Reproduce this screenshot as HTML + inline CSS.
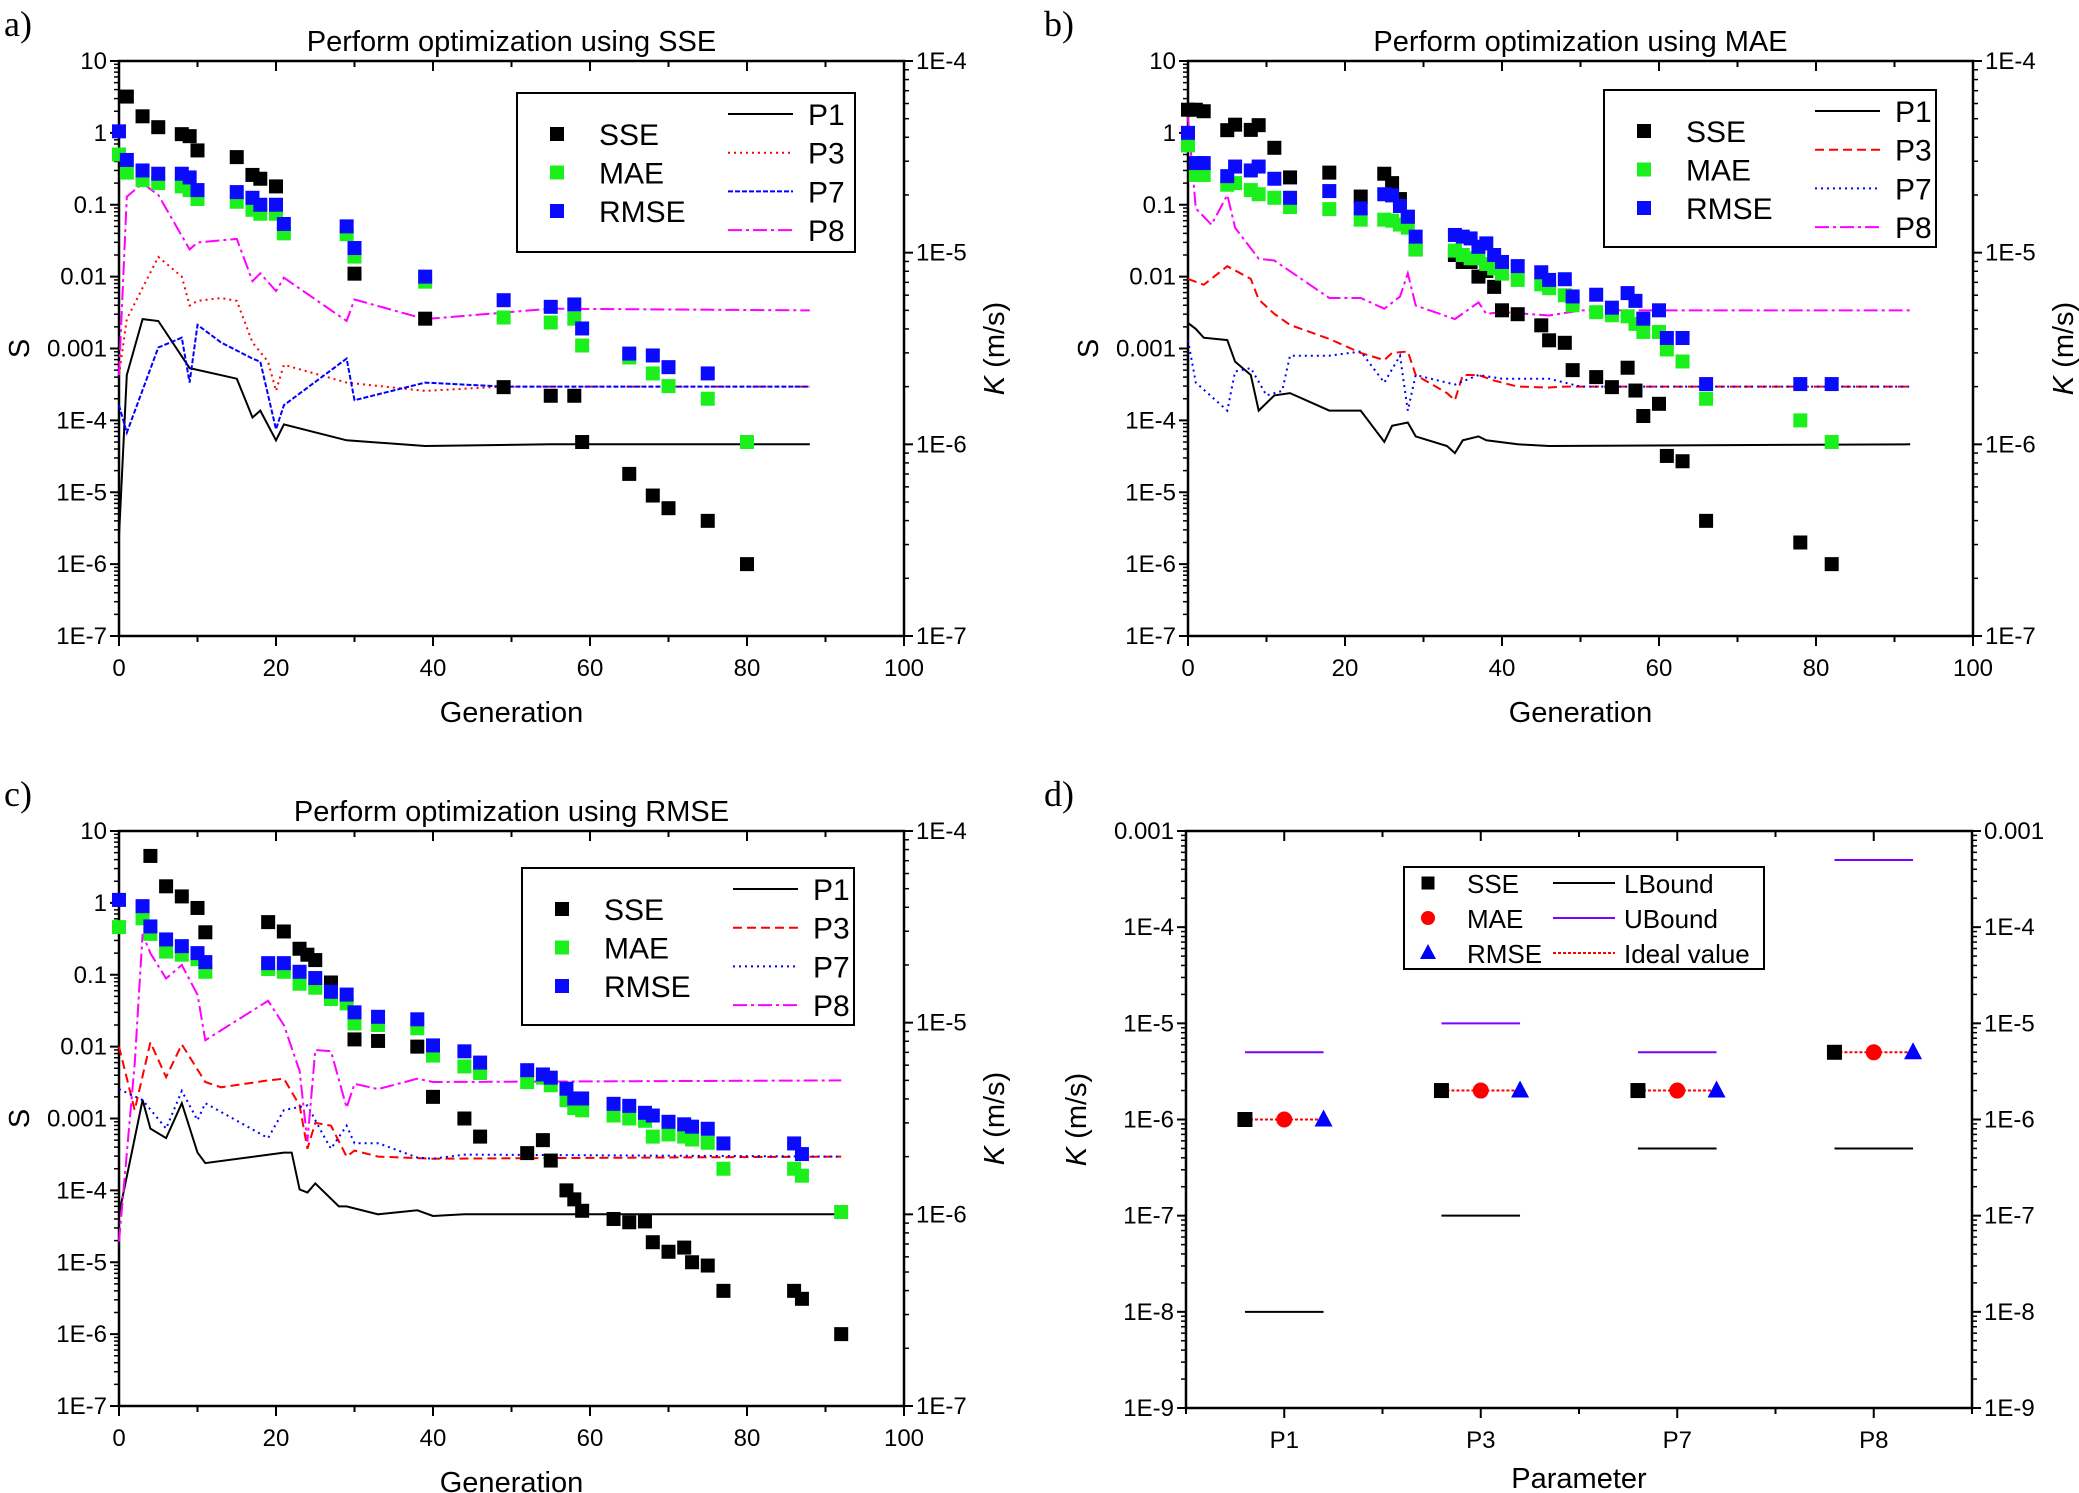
<!DOCTYPE html>
<html><head><meta charset="utf-8"><style>
html,body{margin:0;padding:0;background:#fff;}
svg{display:block;font-family:"Liberation Sans",Arial,sans-serif;}
</style></head><body>
<svg id="fig" width="2079" height="1493" viewBox="0 0 2079 1493" xmlns="http://www.w3.org/2000/svg"></svg>
<script>
// ---------- data: panel a (optimization using SSE) ----------
const a_sse_gen=[1,3,5,8,9,10,15,17,18,20,30,39,49,55,58,59,65,68,70,75,80];
const a_sse_val=[3.2,1.7,1.2,0.96,0.9,0.57,0.46,0.26,0.23,0.18,0.011,0.0026,2.9e-4,2.2e-4,2.2e-4,5e-5,1.8e-5,9e-6,6e-6,4e-6,1e-6];
const a_mae_gen=[0,1,3,5,8,9,10,15,17,18,20,21,29,30,39,49,55,58,59,65,68,70,75,80];
const a_mae_val=[0.5,0.28,0.22,0.2,0.18,0.16,0.12,0.11,0.085,0.075,0.075,0.04,0.039,0.019,0.0085,0.0027,0.0023,0.0026,0.0011,7.5e-4,4.5e-4,3e-4,2e-4,5e-5];
const a_rmse_gen=[0,1,3,5,8,9,10,15,17,18,20,21,29,30,39,49,55,58,59,65,68,70,75];
const a_rmse_val=[1.05,0.42,0.3,0.27,0.27,0.24,0.16,0.15,0.125,0.1,0.1,0.054,0.05,0.025,0.01,0.0047,0.0038,0.0041,0.0019,8.5e-4,8e-4,5.5e-4,4.5e-4];
const a_p1_gen=[0,1,3,5,9,15,17,18,20,21,29,39,55,88];
const a_p1_val=[3.3e-7,2.3e-6,4.5e-6,4.4e-6,2.5e-6,2.2e-6,1.38e-6,1.5e-6,1.05e-6,1.27e-6,1.05e-6,0.98e-6,1.0e-6,1.0e-6];
const a_p3_gen=[0,1,5,8,9,10,13,15,17,19,20,21,29,39,49,88];
const a_p3_val=[2.3e-6,4.5e-6,9.5e-6,7.5e-6,5.3e-6,5.6e-6,5.8e-6,5.6e-6,3.4e-6,2.7e-6,1.9e-6,2.6e-6,2.1e-6,1.9e-6,2.0e-6,2.0e-6];
const a_p7_gen=[0,1,5,8,9,10,13,17,18,20,21,29,30,39,49,88];
const a_p7_val=[1.6e-6,1.15e-6,3.2e-6,3.6e-6,2.1e-6,4.2e-6,3.4e-6,2.8e-6,2.7e-6,1.2e-6,1.6e-6,2.8e-6,1.7e-6,2.1e-6,2e-6,2e-6];
const a_p8_gen=[0,1,3,5,9,10,15,17,18,20,21,29,30,39,55,88];
const a_p8_val=[2.3e-6,1.96e-5,2.3e-5,2.0e-5,1.04e-5,1.13e-5,1.18e-5,7.1e-6,7.8e-6,6.3e-6,7.4e-6,4.4e-6,5.7e-6,4.5e-6,5.1e-6,5e-6];
// ---------- data: panel b (optimization using MAE) ----------
const b_gen=[0,1,2,5,6,8,9,11,13,18,22,25,26,27,28,29,34,35,36,37,38,39,40,42,45,46,48,49,52,54,56,57,58,60,61,63,66,78,82];
const b_sse_val=[2.1,2.1,2.0,1.09,1.3,1.1,1.28,0.62,0.24,0.28,0.13,0.27,0.2,0.12,0.068,0.024,0.02,0.016,0.016,0.01,0.012,0.0072,0.0034,0.003,0.0021,0.0013,0.0012,5e-4,4e-4,2.9e-4,5.4e-4,2.6e-4,1.15e-4,1.7e-4,3.2e-5,2.7e-5,4e-6,2e-6,1e-6];
const b_mae_val=[0.67,0.26,0.26,0.19,0.2,0.16,0.14,0.125,0.093,0.087,0.062,0.062,0.06,0.053,0.048,0.024,0.023,0.02,0.018,0.018,0.015,0.013,0.011,0.009,0.0078,0.0069,0.0055,0.004,0.0032,0.0029,0.0028,0.0022,0.0017,0.0017,9.7e-4,6.6e-4,2.0e-4,1e-4,5e-5];
const b_rmse_val=[1.0,0.38,0.38,0.25,0.34,0.3,0.34,0.23,0.125,0.155,0.089,0.14,0.135,0.096,0.068,0.036,0.038,0.036,0.034,0.026,0.029,0.02,0.016,0.014,0.0115,0.009,0.0092,0.0053,0.0056,0.0037,0.0059,0.0046,0.0026,0.0034,0.0014,0.0014,3.2e-4,3.2e-4,3.2e-4];
const b_p1_gen=[0,1,2,5,6,8,9,11,13,18,22,25,26,28,29,33,34,35,37,38,42,46,92];
const b_p1_val=[4.3e-6,4.0e-6,3.6e-6,3.5e-6,2.7e-6,2.3e-6,1.5e-6,1.8e-6,1.85e-6,1.5e-6,1.5e-6,1.03e-6,1.25e-6,1.3e-6,1.1e-6,0.98e-6,0.9e-6,1.05e-6,1.1e-6,1.05e-6,1.0e-6,0.98e-6,1.0e-6];
const b_p3_gen=[0,2,5,8,9,11,13,18,22,25,26,28,29,33,34,35,37,39,42,46,48,92];
const b_p3_val=[7.3e-6,6.8e-6,8.5e-6,7.3e-6,5.7e-6,4.8e-6,4.2e-6,3.55e-6,3.0e-6,2.75e-6,3.0e-6,3.05e-6,2.3e-6,1.85e-6,1.7e-6,2.3e-6,2.3e-6,2.15e-6,2.0e-6,1.98e-6,2e-6,2e-6];
const b_p7_gen=[0,1,5,6,8,10,12,13,18,22,25,27,28,29,34,37,40,46,50,92];
const b_p7_val=[3.5e-6,2.1e-6,1.5e-6,2.4e-6,2.5e-6,1.8e-6,1.9e-6,2.9e-6,2.9e-6,3.05e-6,2.1e-6,2.9e-6,1.5e-6,2.3e-6,2.05e-6,2.3e-6,2.2e-6,2.2e-6,2e-6,2e-6];
const b_p8_gen=[0,1,3,5,6,9,11,13,18,22,25,27,28,29,34,37,38,40,46,50,92];
const b_p8_val=[5.1e-5,1.7e-5,1.4e-5,2.0e-5,1.35e-5,9.3e-6,9.1e-6,8.0e-6,5.8e-6,5.8e-6,5.1e-6,5.9e-6,7.8e-6,5.3e-6,4.5e-6,5.5e-6,4.8e-6,4.9e-6,4.7e-6,5e-6,5e-6];
// ---------- data: panel c (optimization using RMSE) ----------
const c_sse_gen=[4,6,8,10,11,19,21,23,24,25,27,30,33,38,40,44,46,52,54,55,57,58,59,63,65,67,68,70,72,73,75,77,86,87,92];
const c_sse_val=[4.5,1.7,1.23,0.85,0.39,0.54,0.4,0.23,0.19,0.16,0.078,0.0126,0.012,0.01,0.002,0.001,5.6e-4,3.3e-4,5e-4,2.6e-4,1e-4,7.5e-5,5.2e-5,4e-5,3.6e-5,3.7e-5,1.9e-5,1.4e-5,1.6e-5,1e-5,9e-6,4e-6,4e-6,3.1e-6,1e-6];
const c_gen=[0,3,4,6,8,10,11,19,21,23,25,27,29,30,33,38,40,44,46,52,54,55,57,58,59,63,65,67,68,70,72,73,75,77,86,87];
const c_mae_val=[0.46,0.61,0.37,0.21,0.19,0.165,0.11,0.12,0.11,0.075,0.066,0.046,0.04,0.021,0.02,0.018,0.0075,0.0053,0.0043,0.0032,0.0037,0.0029,0.0018,0.0014,0.0013,0.0011,0.001,9.3e-4,5.6e-4,6e-4,5.6e-4,5.1e-4,4.6e-4,2e-4,2e-4,1.6e-4];
const c_rmse_val=[1.1,0.9,0.47,0.31,0.25,0.2,0.15,0.145,0.145,0.11,0.09,0.058,0.053,0.03,0.026,0.024,0.0104,0.0086,0.006,0.0047,0.0041,0.0037,0.0026,0.0019,0.0019,0.0016,0.0015,0.0012,0.0011,9e-4,8.3e-4,7.7e-4,7.2e-4,4.5e-4,4.5e-4,3.2e-4];
const c_mae_extra_gen=[92];
const c_mae_extra_val=[5e-5];
const c_p1_gen=[0,3,4,6,8,10,11,21,22,23,24,25,28,29,33,38,40,44,92];
const c_p1_val=[1e-6,3.95e-6,2.8e-6,2.5e-6,3.8e-6,2.1e-6,1.85e-6,2.1e-6,2.1e-6,1.35e-6,1.3e-6,1.45e-6,1.1e-6,1.1e-6,1e-6,1.05e-6,0.98e-6,1e-6,1e-6];
const c_p3_gen=[0,2,4,6,8,11,13,19,21,23,24,25,27,29,30,33,40,92];
const c_p3_val=[7.5e-6,3.5e-6,7.9e-6,5.2e-6,7.7e-6,4.9e-6,4.6e-6,5e-6,5.1e-6,3.7e-6,2.2e-6,3.0e-6,2.9e-6,2.0e-6,2.15e-6,2e-6,1.95e-6,2e-6];
const c_p7_gen=[0,3,6,8,10,11,19,21,24,26,27,29,30,33,38,40,44,92];
const c_p7_val=[4.5e-6,3.95e-6,2.8e-6,4.4e-6,3.1e-6,3.8e-6,2.5e-6,3.5e-6,3.7e-6,2.6e-6,2.2e-6,2.9e-6,2.35e-6,2.35e-6,1.98e-6,1.95e-6,2.05e-6,2e-6];
const c_p8_gen=[0,2,3,4,6,8,10,11,19,21,23,24,25,27,29,30,33,38,40,92];
const c_p8_val=[7.2e-7,6.1e-6,2.9e-5,2.3e-5,1.7e-5,2.0e-5,1.4e-5,8.1e-6,1.3e-5,9.7e-6,5.6e-6,2.4e-6,7.2e-6,7.1e-6,3.6e-6,4.8e-6,4.5e-6,5.1e-6,4.9e-6,5e-6];
// ---------- data: panel d ----------
const d_params=["P1","P3","P7","P8"];
const d_lbound=[1e-8,1e-7,5e-7,5e-7];
const d_ubound=[5e-6,1e-5,5e-6,5e-4];
const d_ideal=[1e-6,2e-6,2e-6,5e-6];
const d_sse=[1e-6,2e-6,2e-6,5e-6];
const d_mae=[1e-6,2e-6,2e-6,5e-6];
const d_rmse=[1e-6,2e-6,2e-6,5e-6];
// ---------- tick labels ----------
const sTicks=["10","1","0.1","0.01","0.001","1E-4","1E-5","1E-6","1E-7"];
const kTicks=["1E-4","1E-5","1E-6","1E-7"];
const genTicks=[0,20,40,60,80,100];
const dTicks=["0.001","1E-4","1E-5","1E-6","1E-7","1E-8","1E-9"];

const NS='http://www.w3.org/2000/svg';
const svg=document.getElementById('fig');
function mk(tag,attrs,name,parent){
  const el=document.createElementNS(NS,tag);
  for(const k in attrs) el.setAttribute(k,attrs[k]);
  
  
  (parent||svg).appendChild(el);
  return el;
}
function txt(x,y,s,size,name,anchor,extra,parent){
  const a=Object.assign({x:x,y:y,'font-size':size,'text-anchor':anchor||'start',fill:'#000'},extra||{});
  const t=mk('text',a,name,parent);
  t.textContent=s;
  return t;
}
function kLabel(x,y,name){
  const t=mk('text',{x:0,y:0,'font-size':29,'text-anchor':'middle',transform:`translate(${x},${y}) rotate(-90)`},name);
  const i=document.createElementNS(NS,'tspan');i.setAttribute('font-style','italic');i.textContent='K';t.appendChild(i);
  const r=document.createElementNS(NS,'tspan');r.textContent=' (m/s)';t.appendChild(r);
}
function square(g,x,y,s,fill,name){mk('rect',{x:x-s/2,y:y-s/2,width:s,height:s,fill:fill},name,g);}

function genPanel(c){
  const g=mk('g',{},c.id);
  const L=c.L,T=c.T,W=c.W,H=c.H;
  const X=v=>L+v/100*W;
  const YS=v=>T+(1-Math.log10(v))/8*H;
  const YK=v=>T+(-4-Math.log10(v))/3*H;
  // axes frame
  mk('rect',{x:L,y:T,width:W,height:H,fill:'none',stroke:'#000','stroke-width':2.5},'plot-frame',g);
  // x ticks
  for(let i=0;i<=10;i++){
    const x=X(i*10),len=i%2==0?10:6;
    mk('line',{x1:x,y1:T+H,x2:x,y2:T+H+len,stroke:'#000','stroke-width':2},'x-tick',g);
    mk('line',{x1:x,y1:T,x2:x,y2:T+len,stroke:'#000','stroke-width':2},'x-tick-top',g);
  }
  genTicks.forEach(v=>txt(X(v),T+H+40,String(v),24,'x-tick-label','middle',null,g));
  // left ticks
  sTicks.forEach((s,i)=>{
    const y=T+i*H/8;
    mk('line',{x1:L-9,y1:y,x2:L,y2:y,stroke:'#000','stroke-width':2},'y-tick',g);
    txt(L-12,y+8,s,24,'y-tick-label','end',null,g);
    if(i<8) for(let m=2;m<10;m++){
      const ym=T+(i+1-Math.log10(m))*H/8;
      mk('line',{x1:L-5,y1:ym,x2:L,y2:ym,stroke:'#000','stroke-width':1.5},'y-minor-tick',g);
    }
  });
  kTicks.forEach((s,i)=>{
    const y=T+i*H/3;
    mk('line',{x1:L+W,y1:y,x2:L+W+9,y2:y,stroke:'#000','stroke-width':2},'y2-tick',g);
    txt(L+W+12,y+8,s,24,'y2-tick-label','start',null,g);
    if(i<3) for(let m=2;m<10;m++){
      const ym=T+(i+1-Math.log10(m))*H/3;
      mk('line',{x1:L+W,y1:ym,x2:L+W+5,y2:ym,stroke:'#000','stroke-width':1.5},'y2-minor-tick',g);
    }
  });
  txt(L+W/2,T-10,c.title,29,'chart-title','middle',null,g);
  txt(L+W/2,T+H+86,'Generation',29,'x-axis-title','middle',null,g);
  const sl=mk('text',{x:0,y:0,'font-size':29,'text-anchor':'middle',transform:`translate(${L-90},${T+H/2}) rotate(-90)`},'y-axis-title',g);
  sl.textContent='S';
  kLabel(L+W+100,T+H/2,'y2-axis-title');
  txt(c.letterX,c.letterY,c.letter,36,'panel-label','start',{'font-family':'"Liberation Serif",serif'},g);
  // lines
  const lines=[[c.p1g,c.p1v,'#000','none','p1-line'],[c.p3g,c.p3v,'#ff0000',c.d3,'p3-line'],[c.p7g,c.p7v,'#0000ff',c.d7,'p7-line'],[c.p8g,c.p8v,'#ff00ff','14,4,3,4','p8-line']];
  lines.forEach(l=>{
    const pts=l[0].map((gg,i)=>X(gg).toFixed(1)+','+YK(l[1][i]).toFixed(1)).join(' ');
    mk('polyline',{points:pts,fill:'none',stroke:l[2],'stroke-width':2,'stroke-dasharray':l[3]},l[4],g);
  });
  // scatter
  c.sseG.forEach((gg,i)=>square(g,X(gg),YS(c.sseV[i]),14,'#000','sse-point'));
  c.maeG.forEach((gg,i)=>square(g,X(gg),YS(c.maeV[i]),14,'#1cf01c','mae-point'));
  if(c.maeG2) c.maeG2.forEach((gg,i)=>square(g,X(gg),YS(c.maeV2[i]),14,'#1cf01c','mae-point'));
  c.rmseG.forEach((gg,i)=>square(g,X(gg),YS(c.rmseV[i]),14,'#0a0aff','rmse-point'));
  // legend
  const lg=mk('g',{},'legend',g);
  const b=c.lb;
  mk('rect',{x:b[0],y:b[1],width:b[2],height:b[3],fill:'#fff',stroke:'#000','stroke-width':2},'legend-box',lg);
  const mx=b[0]+40, tx=b[0]+82;
  const rows=[['SSE','#000'],['MAE','#1cf01c'],['RMSE','#0a0aff']];
  rows.forEach((r,i)=>{
    const y=b[1]+41+i*38.5;
    square(lg,mx,y,14,r[1],'legend-marker-'+r[0].toLowerCase());
    txt(tx,y+11,r[0],30,'legend-label-'+r[0].toLowerCase(),'start',null,lg);
  });
  const lx1=b[0]+211, lx2=b[0]+276;
  lines.forEach((l,i)=>{
    const y=b[1]+21+i*38.7;
    mk('line',{x1:lx1,y1:y,x2:lx2,y2:y,stroke:l[2],'stroke-width':2,'stroke-dasharray':l[3]},'legend-line-'+l[4],lg);
    txt(lx2+15,y+11,['P1','P3','P7','P8'][i],30,'legend-label-'+l[4],'start',null,lg);
  });
}

genPanel({id:'panel-a',L:119,T:61,W:785,H:575,title:'Perform optimization using SSE',letter:'a)',letterX:4,letterY:36,
  sseG:a_sse_gen,sseV:a_sse_val,maeG:a_mae_gen,maeV:a_mae_val,rmseG:a_rmse_gen,rmseV:a_rmse_val,
  p1g:a_p1_gen,p1v:a_p1_val,p3g:a_p3_gen,p3v:a_p3_val,p7g:a_p7_gen,p7v:a_p7_val,p8g:a_p8_gen,p8v:a_p8_val,
  d3:'2,4',d7:'5,2',lb:[517,93,338,159]});
genPanel({id:'panel-b',L:1188,T:61,W:785,H:575,title:'Perform optimization using MAE',letter:'b)',letterX:1044,letterY:36,
  sseG:b_gen,sseV:b_sse_val,maeG:b_gen,maeV:b_mae_val,rmseG:b_gen,rmseV:b_rmse_val,
  p1g:b_p1_gen,p1v:b_p1_val,p3g:b_p3_gen,p3v:b_p3_val,p7g:b_p7_gen,p7v:b_p7_val,p8g:b_p8_gen,p8v:b_p8_val,
  d3:'9,5',d7:'2,4',lb:[1604,90,332,157]});
genPanel({id:'panel-c',L:119,T:831,W:785,H:575,title:'Perform optimization using RMSE',letter:'c)',letterX:4,letterY:806,
  sseG:c_sse_gen,sseV:c_sse_val,maeG:c_gen,maeV:c_mae_val,maeG2:c_mae_extra_gen,maeV2:c_mae_extra_val,rmseG:c_gen,rmseV:c_rmse_val,
  p1g:c_p1_gen,p1v:c_p1_val,p3g:c_p3_gen,p3v:c_p3_val,p7g:c_p7_gen,p7v:c_p7_val,p8g:c_p8_gen,p8v:c_p8_val,
  d3:'9,5',d7:'2,4',lb:[522,868,332,157]});

// ---------- panel d ----------
(function(){
  const g=mk('g',{},'panel-d');
  const L=1186,T=831,W=786,H=577;
  const X=i=>L+(i+0.5)/4*W;
  const Y=v=>T+(-3-Math.log10(v))/6*H;
  mk('rect',{x:L,y:T,width:W,height:H,fill:'none',stroke:'#000','stroke-width':2.5},'plot-frame',g);
  for(let i=0;i<=8;i++){
    const x=L+i*W/8,len=i%2==1?10:6;
    mk('line',{x1:x,y1:T+H,x2:x,y2:T+H+len,stroke:'#000','stroke-width':2},'x-tick',g);
    mk('line',{x1:x,y1:T,x2:x,y2:T+len,stroke:'#000','stroke-width':2},'x-tick-top',g);
  }
  d_params.forEach((p,i)=>txt(X(i),T+H+40,p,24,'x-tick-label','middle',null,g));
  dTicks.forEach((s,i)=>{
    const y=T+i*H/6;
    mk('line',{x1:L-9,y1:y,x2:L,y2:y,stroke:'#000','stroke-width':2},'y-tick',g);
    mk('line',{x1:L+W,y1:y,x2:L+W+9,y2:y,stroke:'#000','stroke-width':2},'y2-tick',g);
    txt(L-12,y+8,s,24,'y-tick-label','end',null,g);
    txt(L+W+12,y+8,s,24,'y2-tick-label','start',null,g);
    if(i<6) for(let m=2;m<10;m++){
      const ym=T+(i+1-Math.log10(m))*H/6;
      mk('line',{x1:L-5,y1:ym,x2:L,y2:ym,stroke:'#000','stroke-width':1.5},'y-minor-tick',g);
      mk('line',{x1:L+W,y1:ym,x2:L+W+5,y2:ym,stroke:'#000','stroke-width':1.5},'y2-minor-tick',g);
    }
  });
  txt(L+W/2,T+H+80,'Parameter',29,'x-axis-title','middle',null,g);
  kLabel(L-100,T+H/2,'y-axis-title');
  txt(1044,806,'d)',36,'panel-label','start',{'font-family':'"Liberation Serif",serif'},g);
  const hw=W/4*0.2;
  d_params.forEach((p,i)=>{
    const x=X(i);
    mk('line',{x1:x-hw,y1:Y(d_lbound[i]),x2:x+hw,y2:Y(d_lbound[i]),stroke:'#000','stroke-width':2},'lbound-line',g);
    mk('line',{x1:x-hw,y1:Y(d_ubound[i]),x2:x+hw,y2:Y(d_ubound[i]),stroke:'#8000ff','stroke-width':2},'ubound-line',g);
    mk('line',{x1:x-hw,y1:Y(d_ideal[i]),x2:x+hw,y2:Y(d_ideal[i]),stroke:'#ff0000','stroke-width':2,'stroke-dasharray':'3,2'},'ideal-line',g);
    square(g,x-hw,Y(d_sse[i]),15,'#000','sse-point');
    mk('circle',{cx:x,cy:Y(d_mae[i]),r:8,fill:'#ff0000'},'mae-point',g);
    const yr=Y(d_rmse[i]),xr=x+hw;
    mk('polygon',{points:`${xr},${yr-10} ${xr-9},${yr+7} ${xr+9},${yr+7}`,fill:'#0000ff'},'rmse-point',g);
  });
  const lg=mk('g',{},'legend',g);
  mk('rect',{x:1404,y:867,width:360,height:102,fill:'#fff',stroke:'#000','stroke-width':2},'legend-box',lg);
  const ry=[883,918,953];
  square(lg,1428,ry[0],13,'#000','legend-marker-sse');
  mk('circle',{cx:1428,cy:ry[1],r:7,fill:'#ff0000'},'legend-marker-mae',lg);
  mk('polygon',{points:`1428,${ry[2]-9} 1420,${ry[2]+6} 1436,${ry[2]+6}`,fill:'#0000ff'},'legend-marker-rmse',lg);
  ['SSE','MAE','RMSE'].forEach((s,i)=>txt(1467,ry[i]+10,s,26,'legend-label-'+s.toLowerCase(),'start',null,lg));
  mk('line',{x1:1553,y1:ry[0],x2:1615,y2:ry[0],stroke:'#000','stroke-width':2},'legend-line-lbound',lg);
  mk('line',{x1:1553,y1:ry[1],x2:1615,y2:ry[1],stroke:'#8000ff','stroke-width':2},'legend-line-ubound',lg);
  mk('line',{x1:1553,y1:ry[2],x2:1615,y2:ry[2],stroke:'#ff0000','stroke-width':2,'stroke-dasharray':'3,2'},'legend-line-ideal',lg);
  ['LBound','UBound','Ideal value'].forEach((s,i)=>txt(1624,ry[i]+10,s,26,'legend-label-'+s.toLowerCase().replace(' ','-'),'start',null,lg));
})();
</script>
</body></html>
